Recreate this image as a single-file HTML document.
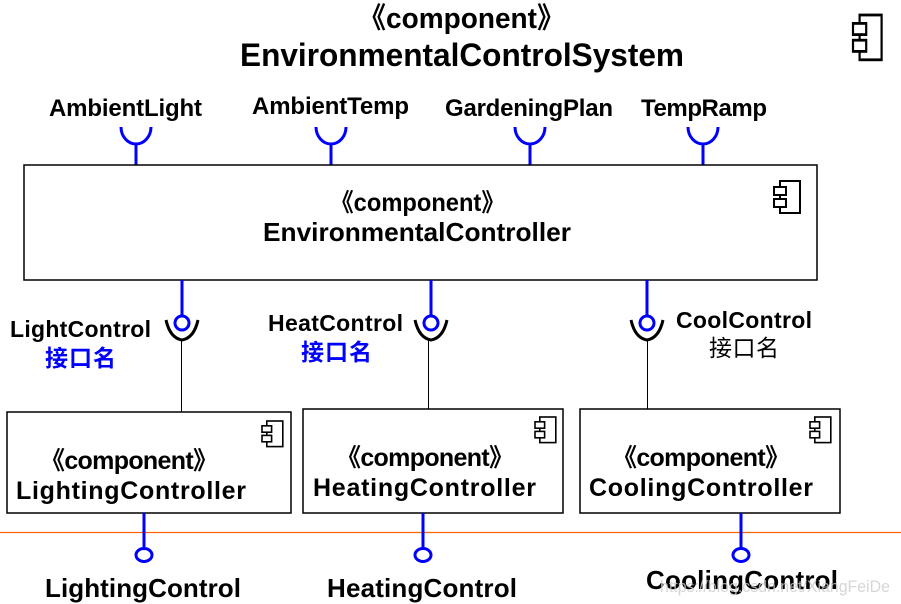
<!DOCTYPE html>
<html><head><meta charset="utf-8"><style>
body{margin:0;background:#fff}
svg{display:block}
text{font-family:"Liberation Sans","Noto Sans CJK SC",sans-serif;font-weight:bold;fill:#000}
</style></head><body>
<svg width="901" height="604" viewBox="0 0 901 604" xmlns="http://www.w3.org/2000/svg">
<defs>
<g id="ic" fill="#fff" stroke="#000" stroke-width="2">
<rect x="6" y="0" width="20" height="32"/>
<rect x="0" y="6" width="12" height="8"/>
<rect x="0" y="18" width="12" height="8"/>
</g>
</defs>
<text x="358" y="28" font-size="29" textLength="207" lengthAdjust="spacingAndGlyphs">《component》</text>
<text x="240" y="66" font-size="32" textLength="444" lengthAdjust="spacingAndGlyphs">EnvironmentalControlSystem</text>
<g transform="translate(853,15) scale(1.1,1.4)"><use href="#ic"/></g>

<g font-size="24" lengthAdjust="spacingAndGlyphs">
<text x="49" y="116" textLength="153">AmbientLight</text>
<text x="252" y="114" textLength="157">AmbientTemp</text>
<text x="445" y="116" textLength="168">GardeningPlan</text>
<text x="641" y="116" textLength="126">TempRamp</text>
</g>
<g stroke="#00f" stroke-width="3" fill="none">
<path d="M121 127 A15 17 0 0 0 151 127 M136 144 V165"/>
<path d="M316 127 A15 17 0 0 0 346 127 M331 144 V165"/>
<path d="M515 127 A15 17 0 0 0 545 127 M530 144 V165"/>
<path d="M688 127 A15 17 0 0 0 718 127 M703 144 V165"/>
</g>

<rect x="24" y="165" width="793" height="115" fill="#fff" stroke="#000" stroke-width="1.5"/>
<g transform="translate(774,181)"><use href="#ic"/></g>
<text x="330" y="211" font-size="25" textLength="175" lengthAdjust="spacingAndGlyphs">《component》</text>
<text x="263" y="241" font-size="26" textLength="308" lengthAdjust="spacingAndGlyphs">EnvironmentalController</text>

<g>
<path d="M182 280 V316 M431 280 V316 M647 280 V316" stroke="#00f" stroke-width="3"/>
<circle cx="182" cy="323" r="7" fill="#fff" stroke="#00f" stroke-width="3"/>
<circle cx="431" cy="323" r="7" fill="#fff" stroke="#00f" stroke-width="3"/>
<circle cx="647" cy="323" r="7" fill="#fff" stroke="#00f" stroke-width="3"/>
<g stroke="#000" stroke-width="3" fill="none">
<path d="M166 320 Q170 338 182 340 Q194 338 198 320"/>
<path d="M415 320 Q419 338 431 340 Q443 338 447 320"/>
<path d="M631 320 Q635 338 647 340 Q659 338 663 320"/>
</g>
<path d="M181.5 340 V415 M428.5 340 V409 M647.5 340 V409" stroke="#000" stroke-width="1"/>
</g>
<g font-size="23" lengthAdjust="spacingAndGlyphs">
<text x="10" y="337" textLength="141">LightControl</text>
<text x="45" y="366" textLength="71" style="fill:#00f">接口名</text>
<text x="268" y="331" textLength="135">HeatControl</text>
<text x="301" y="360" textLength="71" style="fill:#00f">接口名</text>
<text x="676" y="328" textLength="136">CoolControl</text>
<text x="709" y="356" textLength="70" style="font-weight:normal">接口名</text>
</g>

<g fill="#fff" stroke="#000" stroke-width="1.5">
<rect x="7" y="412" width="284" height="101"/>
<rect x="303" y="409" width="260" height="104"/>
<rect x="580" y="409" width="260" height="104"/>
</g>
<g transform="translate(262,421) scale(0.8)"><use href="#ic"/></g>
<g transform="translate(535,417) scale(0.8)"><use href="#ic"/></g>
<g transform="translate(810,417) scale(0.8)"><use href="#ic"/></g>
<g font-size="25" lengthAdjust="spacingAndGlyphs">
<text x="40" y="469" textLength="178">《component》</text>
<text x="16" y="499" textLength="230">LightingController</text>
<text x="336" y="466" textLength="178">《component》</text>
<text x="313" y="496" textLength="223">HeatingController</text>
<text x="612" y="466" textLength="178">《component》</text>
<text x="589" y="496" textLength="224">CoolingController</text>
</g>

<line x1="0" y1="532.5" x2="901" y2="532.5" stroke="#f60" stroke-width="1.2"/>
<path d="M144 513 V549 M423 513 V549 M741 513 V549" stroke="#00f" stroke-width="3"/>
<g fill="#fff" stroke="#00f" stroke-width="3">
<ellipse cx="144" cy="555" rx="8" ry="6.5"/>
<ellipse cx="423" cy="555" rx="8" ry="6.5"/>
<ellipse cx="741" cy="555" rx="8" ry="6.5"/>
</g>
<g font-size="26" lengthAdjust="spacingAndGlyphs">
<text x="45" y="597" textLength="196">LightingControl</text>
<text x="327" y="597" textLength="190">HeatingControl</text>
<text x="646" y="589" textLength="192">CoolingControl</text>
</g>
<text x="660" y="592" font-size="17" textLength="230" lengthAdjust="spacingAndGlyphs" style="font-weight:normal;fill:#ccc;opacity:0.8">https://blog.csdn.net/XiangFeiDe</text>
</svg>
</body></html>
